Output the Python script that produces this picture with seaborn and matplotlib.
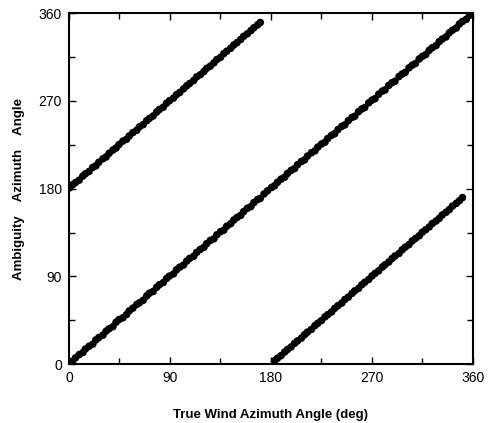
import matplotlib
matplotlib.use("Agg")
import matplotlib.pyplot as plt
from matplotlib.ticker import MultipleLocator
import pandas as pd
import seaborn as sns

# True wind azimuth (deg)
true_az = [
    0.5, 3.2, 5.8, 9.1, 12.4, 14.7, 17.9, 21.2, 24.0, 26.6,
    30.3, 33.1, 35.8, 39.2, 42.0, 44.6, 48.1, 51.3, 53.7, 57.0,
    60.4, 62.8, 66.1, 69.3, 71.7, 75.0, 78.2, 80.6, 84.1, 87.0,
    89.6, 93.2, 95.9, 98.7, 102.1, 105.0, 107.6, 111.2, 113.8, 117.1,
    120.3, 122.7, 126.0, 129.2, 131.8, 135.1, 138.0, 140.6, 144.2, 146.9,
    149.8, 153.1, 155.7, 159.0, 162.2, 164.8, 168.1, 170.5, 173.9, 177.0,
    180.6, 183.2, 185.9, 189.1, 192.3, 194.8, 198.0, 201.1, 203.7, 207.2,
    210.0, 212.6, 216.1, 219.3, 221.8, 225.0, 228.2, 230.7, 234.1, 236.9,
    239.8, 243.2, 245.9, 249.0, 252.3, 254.7, 258.1, 261.0, 263.6, 267.2,
    270.1, 272.8, 276.0, 279.3, 281.7, 285.1, 288.0, 290.6, 294.2, 297.0,
    299.7, 303.1, 306.0, 308.8, 312.2, 314.9, 318.0, 321.1, 323.8, 327.2,
    330.0, 332.7, 336.1, 339.0, 341.8, 345.2, 348.0, 350.7, 354.1, 357.0,
    359.6,
]

# First retrieved ambiguity (close to the true direction)
ambiguity_1 = [
    1.0, 3.0, 6.5, 9.8, 12.0, 15.6, 18.4, 20.5, 24.9, 27.3,
    29.8, 33.9, 36.4, 38.5, 43.1, 45.8, 47.6, 50.9, 54.6, 57.5,
    61.2, 63.0, 65.5, 70.0, 72.8, 74.6, 78.9, 81.5, 83.7, 87.9,
    90.4, 92.6, 96.8, 99.5, 101.6, 105.8, 108.5, 110.7, 114.6, 117.8,
    119.8, 123.6, 126.9, 128.6, 132.7, 135.9, 137.4, 141.5, 144.0, 147.8,
    150.5, 152.6, 156.5, 159.9, 161.6, 165.7, 168.9, 170.0, 174.6, 177.8,
    181.2, 182.9, 186.6, 189.8, 191.8, 195.6, 198.7, 200.6, 204.5, 207.9,
    209.5, 213.4, 216.8, 218.8, 222.6, 225.7, 227.7, 231.5, 234.8, 236.4,
    240.6, 243.9, 245.4, 249.8, 253.0, 254.2, 258.9, 261.7, 263.1, 268.0,
    270.8, 272.3, 276.8, 280.0, 281.2, 285.9, 288.7, 290.1, 295.0, 297.6,
    299.2, 303.9, 306.7, 308.3, 313.0, 315.6, 317.5, 321.9, 324.5, 326.7,
    330.8, 333.4, 335.6, 339.8, 342.5, 344.7, 348.8, 351.4, 353.6, 357.7,
    359.4,
]

# Second ambiguity (roughly opposite direction); None where not retrieved
ambiguity_2 = [
    180.8, 183.9, 186.2, 188.7, 192.9, 195.3, 197.6, 201.8, 203.4, 207.0,
    210.7, 212.5, 216.3, 219.6, 221.7, 225.2, 228.8, 230.6, 234.0, 237.5,
    239.9, 243.4, 245.6, 249.7, 252.0, 254.5, 258.6, 261.2, 263.5, 267.6,
    270.2, 272.9, 276.4, 278.6, 282.3, 285.5, 287.8, 290.9, 294.6, 296.8,
    300.1, 303.3, 305.6, 309.0, 312.4, 314.6, 318.5, 320.9, 324.0, 327.3,
    329.7, 333.0, 336.2, 338.8, 342.1, 345.0, 347.9, 350.4, None, None,
    None, 3.5, 6.2, 8.8, 12.5, 15.1, 17.7, 21.4, 23.9, 26.8,
    30.3, 32.9, 35.7, 39.6, 42.0, 44.7, 48.5, 50.9, 53.6, 57.3,
    60.1, 62.7, 66.3, 68.8, 72.6, 75.2, 77.7, 81.4, 84.0, 86.9,
    90.5, 93.1, 95.7, 99.6, 102.0, 104.8, 108.4, 111.0, 113.6, 117.3,
    120.0, 122.6, 126.4, 128.9, 131.7, 135.3, 137.9, 140.7, 144.2, 146.8,
    149.5, 153.0, 155.8, 158.6, 162.1, 164.9, 167.6, 170.8, None, None,
    None,
]

df = pd.DataFrame({
    "true": true_az * 2,
    "amb": ambiguity_1 + ambiguity_2,
    "rank": ["first"] * len(true_az) + ["second"] * len(true_az),
}).dropna()

sns.set_theme(style="ticks")
plt.rcParams["font.family"] = ["Liberation Sans", "DejaVu Sans"]
plt.rcParams["text.color"] = "black"
plt.rcParams["axes.labelcolor"] = "black"
plt.rcParams["xtick.color"] = "black"
plt.rcParams["ytick.color"] = "black"

fig = plt.figure(figsize=(4.89, 4.23), dpi=100)
ax = fig.add_axes([0.141, 0.139, 0.826, 0.830])

sns.scatterplot(data=df, x="true", y="amb", hue="rank",
                palette=["black", "black"], s=30, linewidth=0,
                legend=False, ax=ax)

ax.set_xlim(0, 360)
ax.set_ylim(0, 360)
ax.xaxis.set_major_locator(MultipleLocator(90))
ax.yaxis.set_major_locator(MultipleLocator(90))
ax.xaxis.set_minor_locator(MultipleLocator(45))
ax.yaxis.set_minor_locator(MultipleLocator(45))
ax.tick_params(which="both", direction="in", top=True, right=True,
               width=1.0, color="black", labelcolor="black")
ax.tick_params(which="major", length=5, labelsize=10, pad=5)
ax.tick_params(which="minor", length=4)

for sp in ax.spines.values():
    sp.set_linewidth(1.5)
    sp.set_color("black")

ax.set_xlabel("True Wind Azimuth Angle (deg)", fontsize=9.5,
              fontweight="bold", labelpad=17, color="black")
ax.set_ylabel("Ambiguity    Azimuth    Angle", fontsize=9.5,
              fontweight="bold", labelpad=10, color="black")

fig.savefig("out.png", dpi=100)
